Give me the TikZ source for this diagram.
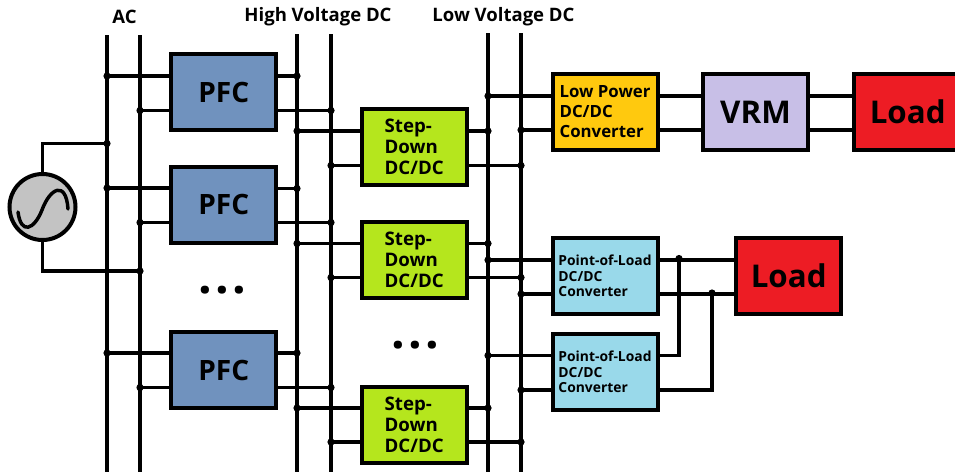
\documentclass[tikz,border=0pt]{standalone}
\usepackage{fontspec}
\setmainfont{Open Sans}
\begin{document}
\begin{tikzpicture}[x=0.75pt,y=-0.75pt,
  wire/.style={line width=2.6pt,black},
  box/.style={draw=black,line width=3pt,rectangle,minimum width=78.75pt,minimum height=57pt,inner sep=0pt,outer sep=0pt,align=left,font=\bfseries},
  pfcbox/.style={box,fill=pfcblue,font=\fontsize{21}{25}\bfseries},
  stepbox/.style={box,fill=stepgreen,font=\fontsize{14}{15.75}\bfseries},
  lpbox/.style={box,fill=lpyellow,font=\fontsize{12.6}{15}\bfseries},
  polbox/.style={box,fill=polblue,font=\fontsize{10.4}{11.7}\bfseries},
  vrmbox/.style={box,fill=vrmlilac,font=\fontsize{23.5}{28}\bfseries},
  loadbox/.style={box,fill=loadred,font=\fontsize{23.5}{28}\bfseries},
  dot/.style={circle,fill=black,inner sep=0pt,minimum size=5.4pt,outer sep=0pt},
  buslabel/.style={font=\fontsize{13.9}{16}\bfseries,inner sep=0pt},
  ellipsisdots/.style={font=\fontsize{36}{36}\bfseries,inner sep=0pt,anchor=base}]
\definecolor{pfcblue}{HTML}{7092BE}
\definecolor{stepgreen}{HTML}{B5E61D}
\definecolor{lpyellow}{HTML}{FFC90E}
\definecolor{polblue}{HTML}{99D9EA}
\definecolor{vrmlilac}{HTML}{C8BFE7}
\definecolor{loadred}{HTML}{ED1C24}
\definecolor{srcgray}{HTML}{C3C3C3}
\useasboundingbox (0,0) rectangle (955,472);
% bus ends
\coordinate (a1t) at (107,35); \coordinate (a1b) at (107,472);
\coordinate (a2t) at (140,35); \coordinate (a2b) at (140,472);
\coordinate (h1t) at (297,34); \coordinate (h1b) at (297,472);
\coordinate (h2t) at (331,34); \coordinate (h2b) at (331,472);
\coordinate (l1t) at (488,33); \coordinate (l1b) at (488,472);
\coordinate (l2t) at (521,33); \coordinate (l2b) at (521,472);
\foreach \b in {a1,a2,h1,h2,l1,l2} \draw[wire] (\b t) -- (\b b);
% labels
\node[buslabel] (lac) at (124.5,17) {AC};
\node[buslabel] (lhv) at (318,17) {High Voltage DC};
\node[buslabel] (llv) at (503.5,17) {Low Voltage DC};
% boxes
\node[pfcbox] (p1) at (223.8,92.3) {PFC};
\node[pfcbox] (p2) at (223.8,204.5) {PFC};
\node[pfcbox] (p3) at (223.8,370) {PFC};
\node[stepbox] (s1) at (414.2,147.2) {Step-\\Down\\DC/DC};
\node[stepbox] (s2) at (414.2,259.7) {Step-\\Down\\DC/DC};
\node[stepbox] (s3) at (414.2,425) {Step-\\Down\\DC/DC};
\node[lpbox] (lp) at (605,112) {Low Power\\DC/DC\\Converter};
\node[vrmbox] (vrm) at (755.5,112) {VRM};
\node[loadbox,minimum width=80pt] (load1) at (907,112) {\hspace{1pt}Load};
\node[polbox] (pol1) at (605,276) {Point-of-Load\\DC/DC\\Converter};
\node[polbox] (pol2) at (605,372) {Point-of-Load\\DC/DC\\Converter};
\node[loadbox] (load2) at (788,276) {\hspace{1pt}Load};
\node[circle,draw=black,line width=3pt,fill=srcgray,minimum size=49.5pt,inner sep=0pt,outer sep=0pt] (src) at (42.5,207) {};
\draw[line width=2.6pt,line cap=round] (18,212) .. controls (21,235) and (34,230) .. (42,210) .. controls (50,188) and (66,180) .. (68,209);
% junctions
\foreach \n/\x/\y in {
  ja1/107/76,ja2/140/110.5,ja3/107/188,ja4/140/222.5,ja5/107/353,ja6/140/387.5,
  jh1/297/76,jh2/331/110.5,jh3/297/188.5,jh4/331/222.5,jh5/297/353,jh6/331/387.5,
  js1/297/131,js2/331/165.5,js3/297/243.5,js4/331/277.5,js5/297/408,js6/331/442,
  jt1/488/131,jt2/521/165.5,jt3/488/243.5,jt4/521/277.5,jt5/488/408,jt6/521/442,
  jl1/488/96,jl2/521/130,jq1/488/260,jq2/521/294,jq3/488/355.5,jq4/521/390,
  jsrc1/107/143.5,jsrc2/140/271,jn1/679/258.5,jn2/712/293}
  \node[dot] (\n) at (\x,\y) {};
% PFC and step-down
\foreach \p/\a/\b/\c/\d in {p1/ja1/ja2/jh1/jh2,p2/ja3/ja4/jh3/jh4,p3/ja5/ja6/jh5/jh6,s1/js1/js2/jt1/jt2,s2/js3/js4/jt3/jt4,s3/js5/js6/jt5/jt6}{
  \draw[wire] (\a.center) -- (\p.west |- \a.center);
  \draw[wire] (\b.center) -- (\p.west |- \b.center);
  \draw[wire] (\c.center) -- (\p.east |- \c.center);
  \draw[wire] (\d.center) -- (\p.east |- \d.center);
}
% Converters
\foreach \p/\a/\b in {lp/jl1/jl2,pol1/jq1/jq2,pol2/jq3/jq4}{
  \draw[wire] (\a.center) -- (\p.west |- \a.center);
  \draw[wire] (\b.center) -- (\p.west |- \b.center);
}
\draw[wire] (lp.east |- jl1.center) -- (vrm.west |- jl1.center);
\draw[wire] (lp.east |- jl2.center) -- (vrm.west |- jl2.center);
\draw[wire] (vrm.east |- jl1.center) -- (load1.west |- jl1.center);
\draw[wire] (vrm.east |- jl2.center) -- (load1.west |- jl2.center);
\draw[wire] (pol1.east |- jq1.center) -- (load2.west |- jq1.center);
\draw[wire] (pol1.east |- jq2.center) -- (load2.west |- jq2.center);
\draw[wire] (pol2.east |- jq3.center) -| (jn1.center);
\draw[wire] (pol2.east |- jq4.center) -| (jn2.center);
% source
\draw[wire] (src.north) |- (jsrc1.center);
\draw[wire] (src.south) |- (jsrc2.center);
% rows of three dots
\node[ellipsisdots] (d1) at (222,293) {.\hspace{2.5pt}.\hspace{2.5pt}.};
\node[ellipsisdots] (d2) at (415,348) {.\hspace{2.5pt}.\hspace{2.5pt}.};
\end{tikzpicture}
\end{document}
